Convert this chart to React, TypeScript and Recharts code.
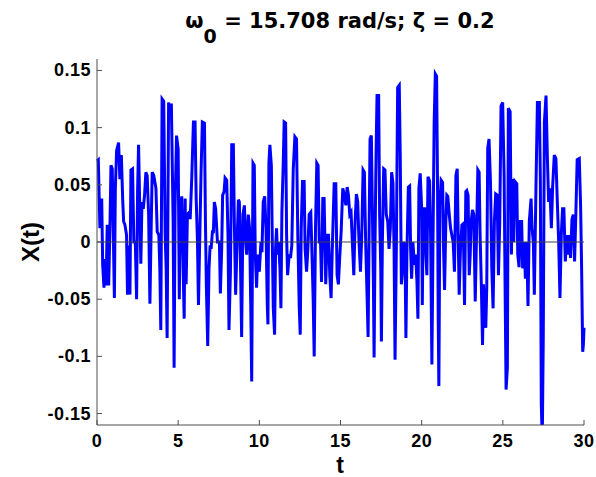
import React from "react";
import { LineChart, Line, XAxis, YAxis, ReferenceLine } from "recharts";

// response, in 5 s pieces (t in s, X(t))
const t1 = [0, 0.08, 0.18, 0.29, 0.35, 0.43, 0.49, 0.56, 0.63, 0.72, 0.8, 0.86, 0.94, 1.0, 1.07, 1.13, 1.21, 1.33, 1.41, 1.5, 1.58, 1.64, 1.72, 1.82, 1.88, 1.97, 2.03, 2.09, 2.19, 2.27, 2.36, 2.44, 2.5, 2.56, 2.64, 2.7, 2.77, 2.85, 2.93, 3.01, 3.09, 3.18, 3.26, 3.34, 3.4, 3.5, 3.63, 3.71, 3.81, 3.87, 3.93, 4.01, 4.11, 4.2, 4.26, 4.32, 4.41, 4.5, 4.58, 4.69, 4.75, 4.81, 4.9, 5.0];
const x1 = [0.071, 0.072, 0.012, 0.038, -0.02, -0.04, -0.015, -0.038, 0.015, -0.038, 0.015, 0.067, 0.064, 0.012, -0.049, 0.047, 0.08, 0.087, 0.055, 0.076, 0.038, 0.018, 0.015, 0.006, -0.046, -0.003, -0.046, 0.063, 0.064, 0.0, 0.0, -0.05, 0.044, 0.085, 0.026, -0.019, 0.035, 0.029, 0.041, 0.061, 0.058, 0.024, -0.054, 0.015, 0.061, 0.058, 0.047, 0.009, 0.006, -0.023, -0.077, 0.125, 0.123, 0.006, -0.023, -0.084, 0.122, 0.11, 0.121, 0.018, -0.11, 0.032, 0.093, 0.081];

const t2 = [5.07, 5.12, 5.22, 5.31, 5.37, 5.43, 5.49, 5.57, 5.68, 5.74, 5.84, 5.94, 6.04, 6.11, 6.19, 6.25, 6.41, 6.49, 6.62, 6.68, 6.74, 6.82, 6.9, 6.97, 7.03, 7.11, 7.17, 7.23, 7.31, 7.42, 7.54, 7.6, 7.68, 7.74, 7.83, 7.89, 7.99, 8.07, 8.13, 8.22, 8.3, 8.4, 8.46, 8.54, 8.63, 8.71, 8.77, 8.83, 8.91, 8.99, 9.08, 9.16, 9.22, 9.32, 9.4, 9.47, 9.53, 9.61, 9.69];
const x2 = [-0.05, 0.018, 0.04, -0.026, -0.067, 0.038, -0.037, 0.024, 0.026, 0.02, 0.057, 0.105, 0.105, 0.038, 0.0, -0.055, 0.061, 0.105, 0.104, 0.018, -0.04, -0.091, -0.023, -0.003, -0.006, 0.009, 0.009, 0.035, 0.029, 0.0, 0.0, -0.045, -0.006, 0.041, 0.044, 0.056, 0.054, 0.006, -0.077, -0.026, 0.085, 0.085, 0.018, -0.046, 0.0, 0.037, 0.035, -0.011, -0.083, 0.024, 0.032, 0.0, -0.011, 0.024, 0.012, -0.055, -0.122, 0.069, 0.067];

const t3 = [9.75, 9.83, 9.9, 10.0, 10.1, 10.16, 10.24, 10.33, 10.41, 10.49, 10.53, 10.59, 10.65, 10.74, 10.8, 10.86, 10.94, 11.0, 11.06, 11.12, 11.19, 11.27, 11.33, 11.39, 11.47, 11.53, 11.62, 11.68, 11.74, 11.84, 11.92, 12.0, 12.09, 12.19, 12.29, 12.37, 12.46, 12.52, 12.58, 12.66, 12.76, 12.82, 12.91, 12.99, 13.07, 13.17, 13.23, 13.32, 13.38, 13.46, 13.54, 13.62, 13.69, 13.77, 13.83, 13.91, 13.99, 14.09, 14.18, 14.26, 14.34, 14.42, 14.5, 14.61, 14.71, 14.79, 14.87, 14.96, 15.04, 15.14];
const x3 = [-0.011, -0.04, -0.011, -0.026, 0.0, -0.009, 0.035, 0.04, 0.012, -0.055, -0.072, 0.069, 0.085, 0.067, 0.0, -0.058, -0.081, -0.006, 0.012, -0.011, 0.0, -0.023, -0.058, 0.026, 0.067, 0.105, 0.104, 0.006, -0.029, -0.011, -0.014, -0.003, 0.064, 0.092, 0.09, 0.006, -0.058, -0.081, 0.012, 0.053, 0.053, -0.006, -0.026, -0.006, 0.024, 0.026, -0.003, -0.052, -0.1, 0.012, 0.069, 0.067, 0.0, 0.0, -0.035, 0.038, 0.038, -0.037, 0.006, 0.006, -0.029, -0.049, -0.003, 0.051, 0.051, -0.029, -0.037, -0.011, 0.009, 0.047];

const t4 = [15.24, 15.33, 15.41, 15.49, 15.57, 15.65, 15.73, 15.82, 15.9, 15.98, 16.06, 16.14, 16.23, 16.31, 16.39, 16.47, 16.55, 16.64, 16.7, 16.76, 16.82, 16.9, 16.96, 17.03, 17.07, 17.13, 17.19, 17.25, 17.35, 17.41, 17.48, 17.52, 17.58, 17.66, 17.74, 17.82, 17.91, 17.99, 18.07, 18.15, 18.23, 18.3, 18.36, 18.44, 18.52, 18.62, 18.68, 18.75, 18.83, 18.89, 18.97, 19.03, 19.09, 19.18, 19.26, 19.32, 19.38, 19.46, 19.55, 19.63, 19.71];
const x4 = [0.041, 0.032, 0.048, 0.041, 0.024, 0.026, 0.0, -0.029, 0.018, 0.042, 0.035, 0.0, -0.026, 0.006, 0.063, 0.061, 0.0, -0.049, -0.083, 0.006, 0.09, 0.093, 0.032, -0.04, -0.101, 0.003, 0.076, 0.128, 0.128, 0.024, -0.023, -0.087, 0.0, 0.064, 0.063, 0.024, 0.018, -0.006, 0.012, 0.061, 0.052, -0.006, -0.103, -0.006, 0.135, 0.137, 0.076, -0.037, -0.023, 0.0, -0.003, -0.084, -0.011, 0.048, 0.049, -0.006, -0.032, 0.0, -0.02, -0.011, -0.035];

const t5 = [19.77, 19.83, 19.91, 20.0, 20.04, 20.1, 20.18, 20.26, 20.32, 20.39, 20.49, 20.55, 20.63, 20.71, 20.77, 20.84, 20.92, 20.98, 21.02, 21.06, 21.12, 21.2, 21.29, 21.35, 21.41, 21.49, 21.55, 21.61, 21.7, 21.78, 21.86, 21.94, 22.02, 22.11, 22.19, 22.25, 22.31, 22.39, 22.48, 22.56, 22.64, 22.72, 22.78, 22.86, 22.93, 22.99, 23.05, 23.13, 23.21, 23.3, 23.38, 23.46, 23.54, 23.6, 23.68, 23.75, 23.81, 23.89, 23.95, 24.01, 24.07, 24.15, 24.24, 24.32, 24.4, 24.48, 24.56, 24.65, 24.73, 24.81, 24.89, 24.99, 25.08, 25.14, 25.2];
const x5 = [-0.067, 0.047, 0.06, 0.029, -0.055, 0.029, 0.029, -0.011, -0.029, 0.057, 0.053, 0.006, -0.107, 0.018, 0.105, 0.147, 0.145, 0.044, -0.067, -0.126, 0.032, 0.054, 0.052, -0.006, -0.042, 0.018, 0.041, 0.04, 0.024, 0.012, 0.006, 0.0, -0.026, 0.058, 0.064, 0.006, -0.046, -0.006, 0.015, 0.016, -0.055, 0.044, 0.045, 0.041, -0.029, -0.011, 0.018, 0.028, 0.024, -0.052, 0.006, 0.063, 0.061, 0.006, -0.04, -0.09, -0.037, -0.067, -0.075, -0.04, 0.082, 0.09, 0.052, -0.023, -0.058, 0.018, 0.042, 0.041, -0.029, 0.018, 0.119, 0.122, 0.058, -0.04, -0.129];

const t6 = [25.28, 25.34, 25.45, 25.53, 25.59, 25.67, 25.75, 25.86, 25.92, 26.0, 26.08, 26.16, 26.22, 26.31, 26.39, 26.47, 26.55, 26.63, 26.74, 26.8, 26.88, 26.94, 27.04, 27.13, 27.25, 27.31, 27.37, 27.43, 27.49, 27.56, 27.66, 27.74, 27.82, 27.9, 27.99, 28.07, 28.17, 28.27, 28.35, 28.44, 28.52, 28.6, 28.68, 28.76, 28.85, 28.93, 28.99, 29.09, 29.17, 29.26, 29.34, 29.42, 29.5, 29.58, 29.71, 29.79, 29.85, 29.92, 29.96, 30.0];
const x6 = [-0.11, 0.117, 0.114, -0.011, 0.055, 0.0, 0.053, 0.051, -0.011, -0.022, 0.018, 0.018, -0.023, 0.0, -0.032, 0.0, -0.056, 0.018, 0.038, 0.012, 0.0, -0.046, 0.047, 0.122, 0.122, 0.055, -0.142, -0.175, -0.084, 0.105, 0.128, 0.076, 0.035, 0.047, 0.012, 0.049, 0.076, 0.073, 0.038, 0.0, -0.049, 0.006, 0.029, 0.029, -0.017, 0.006, -0.011, 0.006, -0.014, 0.02, 0.024, -0.017, 0.026, 0.072, 0.073, 0.032, -0.02, -0.096, -0.09, -0.075];

const xTicks = [0, 5, 10, 15, 20, 25, 30];
const yTicks = [-0.15, -0.1, -0.05, 0, 0.05, 0.1, 0.15];

const pieces: [number[], number[]][] = [
  [t1, x1],
  [t2, x2],
  [t3, x3],
  [t4, x4],
  [t5, x5],
  [t6, x6],
];
const data = pieces.flatMap(([ts, xs]) => ts.map((t, i) => ({ t, x: xs[i] })));

const FONT = "'Liberation Sans', Arial, Helvetica, sans-serif";
const TITLE_FONT = "'DejaVu Sans', 'Liberation Sans', Arial, sans-serif";
const AXIS = "#4d4d4d";

const YTick = (props: any) => {
  const { x, y, payload } = props;
  return (
    <g>
      <line x1={x} x2={x + 5} y1={y} y2={y} stroke={AXIS} />
      <text x={x - 6} y={y + 6} textAnchor="end" fontFamily={FONT} fontWeight="bold" fontSize={18} letterSpacing={0.5} fill="#000">
        {payload.value}
      </text>
    </g>
  );
};

const XTick = (props: any) => {
  const { x, y, payload } = props;
  return (
    <g>
      <line x1={x} x2={x} y1={y} y2={y - 5} stroke={AXIS} />
      <text x={x} y={y + 22} textAnchor="middle" fontFamily={FONT} fontWeight="bold" fontSize={18} letterSpacing={0.5} fill="#000">
        {payload.value}
      </text>
    </g>
  );
};

export default function App() {
  return (
    <div style={{ position: "relative", width: 596, height: 477, background: "#fff" }}>
      <style>{"body{margin:0}"}</style>
      <LineChart width={596} height={477} data={data} margin={{ top: 59, right: 12, bottom: 22, left: 0 }}>
        <XAxis
          dataKey="t"
          type="number"
          domain={[0, 30]}
          ticks={xTicks}
          interval={0}
          height={30}
          tickSize={0}
          tickMargin={0}
          tickLine={false}
          axisLine={{ stroke: AXIS }}
          tick={XTick}
        />
        <YAxis
          type="number"
          domain={[-0.16, 0.16]}
          allowDataOverflow
          ticks={yTicks}
          interval={0}
          width={97}
          tickSize={0}
          tickMargin={0}
          tickLine={false}
          axisLine={{ stroke: AXIS }}
          tick={YTick}
        />
        <Line
          type="linear"
          dataKey="x"
          stroke="#0000ff"
          strokeWidth={3}
          dot={false}
          isAnimationActive={false}
        />
        <ReferenceLine y={0} stroke="#404040" strokeWidth={1} />
      </LineChart>
      <svg width={596} height={477} style={{ position: "absolute", left: 0, top: 0, pointerEvents: "none" }}>
        <text x={340} y={28} textAnchor="middle" fontFamily={TITLE_FONT} fontWeight="bold" fontSize={21} fill="#000">
          <tspan>ω</tspan>
          <tspan fontSize={19} dy={15}>0</tspan>
          <tspan dy={-15}> = 15.708 rad/s; ζ = 0.2</tspan>
        </text>
        <text transform="translate(39,242) rotate(-90)" textAnchor="middle" fontFamily={FONT} fontWeight="bold" fontSize={24} fill="#000">
          X(t)
        </text>
        <text x={340} y={473} textAnchor="middle" fontFamily={FONT} fontWeight="bold" fontSize={23} fill="#000">
          t
        </text>
      </svg>
    </div>
  );
}
